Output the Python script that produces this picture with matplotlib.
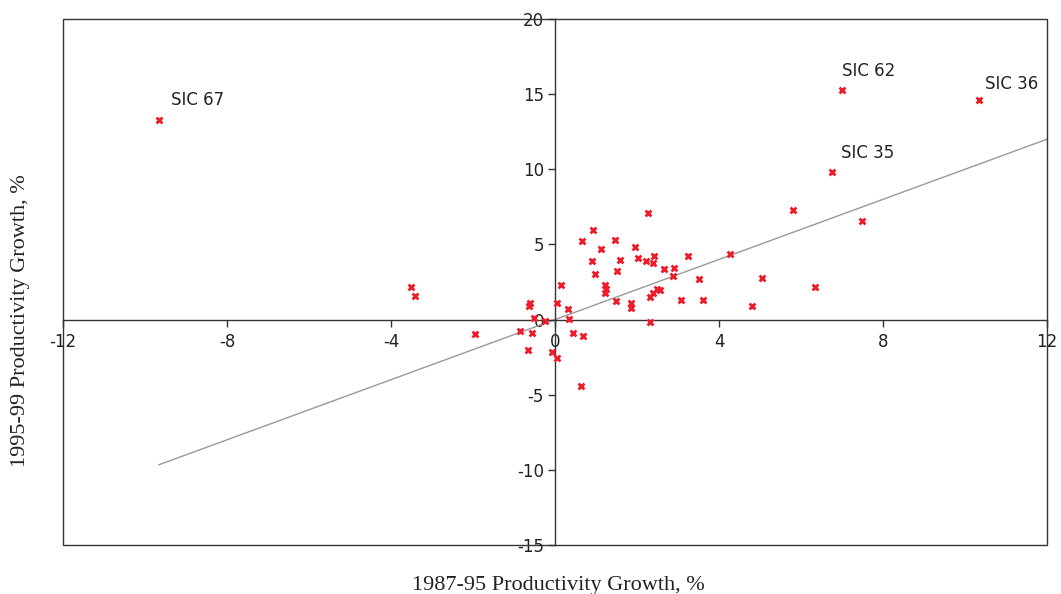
import matplotlib
matplotlib.use('Agg')
import matplotlib.pyplot as plt
from matplotlib.patches import Rectangle

# industries, 1987-95 growth vs 1995-99 growth (%)
growth_8795 = [-3.51, -3.41, -1.96, -0.85, -0.57, -0.65, -0.61, -0.63, -0.51, -0.24,
               -0.08, 0.04, 0.04, 0.15, 0.32, 0.35, 0.43, 0.68, 0.63, 0.67,
               0.93, 0.90, 0.98, 1.13, 1.22, 1.24, 1.21, 1.47, 1.50, 1.59,
               1.49, 1.86, 1.86, 1.94, 2.03, 2.28, 2.23, 2.41, 2.40, 2.32,
               2.40, 2.48, 2.56, 2.32, 2.65, 2.90, 2.87, 3.07, 3.24, 3.52,
               3.62, 4.27, 4.81, 5.05, 5.80, 7.49, 6.33]
growth_9599 = [2.19, 1.59, -0.98, -0.74, -0.87, -2.02, 1.12, 0.90, 0.13, -0.09,
               -2.13, -2.58, 1.12, 2.28, 0.69, 0.02, -0.91, -1.09, -4.44, 5.25,
               5.96, 3.88, 3.06, 4.72, 2.30, 2.02, 1.75, 5.30, 3.23, 3.97,
               1.26, 1.08, 0.75, 4.81, 4.10, 7.11, 3.88, 4.21, 3.77, 1.52,
               1.75, 2.04, 1.97, -0.14, 3.39, 3.45, 2.90, 1.30, 4.23, 2.68,
               1.28, 4.36, 0.90, 2.75, 7.29, 6.54, 2.15]

# labelled outliers
sic_names = ['SIC 67', 'SIC 62', 'SIC 36', 'SIC 35']
sic_x = [-9.66, 6.99, 10.33, 6.75]
sic_y = [13.28, 15.28, 14.61, 9.82]

# fitted line y = a + b*x
trend_a = 0.0
trend_b = 1.0

xticks = [-12, -8, -4, 0, 4, 8, 12]
yticks = [-15, -10, -5, 0, 5, 10, 15, 20]

fig = plt.figure(figsize=(10.61, 5.94), dpi=100)
ax = fig.add_axes([0.0594, 0.0825, 0.9274, 0.8855])
ax.set_xlim(-12, 12)
ax.set_ylim(-15, 20)

edge = '#333333'
for s in ['left', 'bottom']:
    ax.spines[s].set_position(('data', 0))
    ax.spines[s].set_color(edge)
    ax.spines[s].set_linewidth(1.0)
for s in ['top', 'right']:
    ax.spines[s].set_visible(False)
ax.add_patch(Rectangle((0, 0), 1, 1, transform=ax.transAxes, fill=False,
                       edgecolor=edge, lw=1.0, clip_on=False, zorder=3))

all_x = growth_8795 + sic_x
x0 = min(all_x)
x1 = xticks[-1]
ax.plot([x0, x1], [trend_a + trend_b * x0, trend_a + trend_b * x1],
        color='#999999', lw=1.0, zorder=2)

ax.scatter(growth_8795 + sic_x, growth_9599 + sic_y, marker='x', s=18,
           linewidths=2.0, color='#ec1c2a', zorder=4)

offsets = [(9, 8), (0, 7), (5, 5), (7, 7)]
for name, px, py, off in zip(sic_names, sic_x, sic_y, offsets):
    ax.annotate(name, (px, py), xytext=off, textcoords='offset points',
                ha='left', va='bottom', fontsize=12, color='#222222')

ax.set_xticks(xticks)
ax.set_yticks(yticks)
ax.set_xticklabels([str(v) for v in xticks])
ax.set_yticklabels([str(v) for v in yticks])
ax.tick_params(axis='both', direction='out', length=5, width=1.0,
               color=edge, labelsize=12, labelcolor='#222222')
ax.tick_params(axis='x', pad=5)
ax.tick_params(axis='y', pad=3)

fig.text(0.526, 0.015, '1987-95 Productivity Growth, %', ha='center', va='center',
         fontsize=16, family='Liberation Serif', color='#222222')
fig.text(0.019, 0.46, '1995-99 Productivity Growth, %', ha='center', va='center',
         rotation=90, fontsize=16, family='Liberation Serif', color='#222222')

fig.savefig('out.png', dpi=100)
